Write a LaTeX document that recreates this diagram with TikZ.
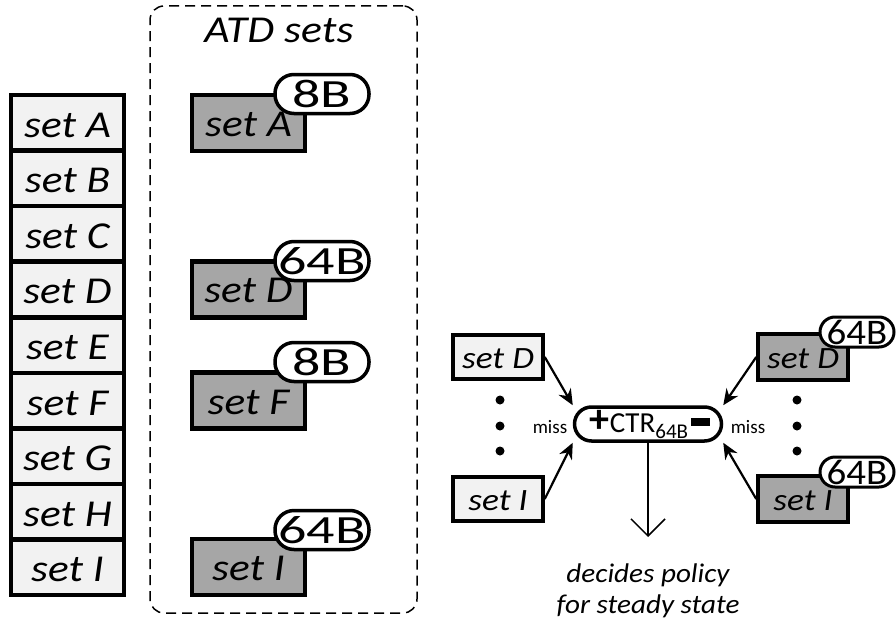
\documentclass[tikz,border=0pt]{standalone}
\usepackage{graphicx}
\usepackage{fontspec}
\setmainfont{Carlito}
\usetikzlibrary{arrows.meta}
\definecolor{lightfill}{HTML}{F2F2F2}
\definecolor{darkfill}{HTML}{A6A6A6}
\newcommand\xs[2]{\scalebox{#1}[1]{#2}}
\begin{document}
\begin{tikzpicture}[x=1pt,y=-1pt,
  cell/.style={draw,line width=4.5pt,fill=lightfill,minimum width=113pt,minimum height=55.5pt,inner sep=0pt,text height=29pt,text depth=0pt,font=\fontsize{38}{42}\selectfont\itshape},
  atdbox/.style={draw,line width=4.5pt,fill=darkfill,minimum width=113pt,minimum height=56pt,inner sep=0pt,text height=27pt,text depth=0pt,font=\fontsize{38}{42}\selectfont\itshape},
  pill/.style={draw,line width=3.5pt,fill=white,minimum width=94pt,minimum height=39pt,rounded corners=19pt,inner sep=0pt,font=\fontsize{40}{44}\selectfont},
  smallcell/.style={draw,line width=3.5pt,fill=lightfill,minimum width=90pt,minimum height=44pt,inner sep=0pt,text height=22pt,text depth=0pt,font=\fontsize{31}{34}\selectfont\itshape},
  smallatd/.style={draw,line width=3.5pt,fill=darkfill,minimum width=90pt,minimum height=46pt,inner sep=0pt,text height=22pt,text depth=0pt,font=\fontsize{31}{34}\selectfont\itshape},
  smallpill/.style={draw,line width=3pt,fill=white,minimum width=74pt,minimum height=30pt,rounded corners=15pt,inner sep=0pt,font=\fontsize{36}{40}\selectfont},
  dot/.style={circle,fill=black,inner sep=0pt,minimum size=9pt},
  missarrow/.style={line width=2.2pt,-{Stealth[length=16pt,width=14pt]}},
  lbl/.style={inner sep=0pt,font=\fontsize{19}{22}\selectfont}
]
\useasboundingbox (0,0) rectangle (896,626);

% left column of sets
\foreach \n/\y in {A/122.8,B/178.3,C/233.9,D/289.4,E/345.0,F/400.6,G/456.1,H/511.7,I/567.2}{
  \node[cell] (cell\n) at (67.5,\y) {\xs{1.14}{set \n}};
}

% ATD sets container
\node[draw,dashed,dash pattern=on 10pt off 6pt,line width=1.5pt,rounded corners=14pt,minimum width=267pt,minimum height=607pt,inner sep=0pt] (atd) at (283.5,309.5) {};
\node[inner sep=0pt,anchor=base,font=\fontsize{38}{42}\selectfont\itshape] (atdtitle) at (279,42) {\xs{1.15}{ATD sets}};

\node[atdbox] (atdA) at (248.5,122.8) {\xs{1.14}{set A}};
\node[pill] (pA) at (322,94) {\xs{1.4}{8B}};
\node[atdbox] (atdD) at (248.5,289.4) {\xs{1.14}{set D}};
\node[pill] (pD) at (322,261) {\xs{1.4}{64B}};
\node[atdbox] (atdF) at (248.5,400.6) {\xs{1.14}{set F}};
\node[pill] (pF) at (322,362) {\xs{1.4}{8B}};
\node[atdbox] (atdI) at (248.5,567.2) {\xs{1.14}{set I}};
\node[pill] (pI) at (322,530) {\xs{1.4}{64B}};

% right part
\node[smallcell] (lD) at (498,357) {\xs{1.14}{set D}};
\node[smallcell] (lI) at (498,499) {\xs{1.14}{set I}};
\node[smallatd] (gD) at (803,357) {\xs{1.14}{set D}};
\node[smallpill] (gpD) at (857,332) {\xs{1.08}{64B}};
\node[smallatd] (gI) at (803,499) {\xs{1.14}{set I}};
\node[smallpill] (gpI) at (857,472) {\xs{1.08}{64B}};

\foreach \i/\y in {1/400,2/426,3/451}{
  \node[dot] (dl\i) at (500,\y) {};
  \node[dot] (dr\i) at (797,\y) {};
}

\node[draw,line width=3.5pt,rounded corners=17pt,minimum width=147pt,minimum height=34pt,inner sep=0pt,font=\fontsize{29}{32}\selectfont] (ctr) at (648,424)
  {\hspace*{4pt}{\fontsize{40}{40}\selectfont\bfseries +}CTR\raisebox{-6pt}{\fontsize{21}{24}\selectfont 64B}\hspace{3pt}\rule[6pt]{19pt}{8pt}};

\node[lbl] (missl) at (550,427) {miss};
\node[lbl] (missr) at (748,427) {miss};

\draw[missarrow] (lD.east) -- (ctr.north west);
\draw[missarrow] (lI.east) -- (ctr.south west);
\draw[missarrow] (gD.west) -- (ctr.north east);
\draw[missarrow] (gI.west) -- (ctr.south east);

\coordinate (tip) at (648,537);
\draw[line width=1.5pt,-{Straight Barb[length=17pt,width=34pt]}] (ctr.south) -- (tip);

\node[align=center,inner sep=0pt,font=\fontsize{27}{31}\selectfont\itshape] (decide) at (648,591) {\xs{1.08}{decides policy}\\\xs{1.08}{for steady state}};
\end{tikzpicture}
\end{document}
